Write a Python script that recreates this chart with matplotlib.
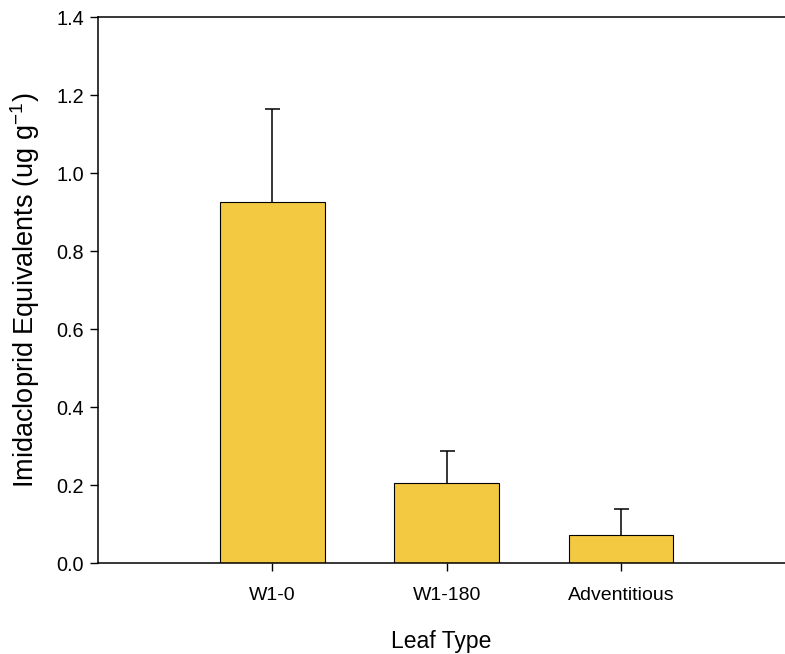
import matplotlib
matplotlib.use("Agg")
import matplotlib.pyplot as plt
import numpy as np

plt.rcParams["font.family"] = ["Liberation Sans", "DejaVu Sans"]
plt.rcParams["mathtext.fontset"] = "custom"
plt.rcParams["mathtext.rm"] = "Liberation Sans"
plt.rcParams["mathtext.default"] = "regular"

categories = ["W1-0", "W1-180", "Adventitious"]
means = [0.926, 0.206, 0.071]
errors = [0.238, 0.081, 0.068]
y_ticks = [0.0, 0.2, 0.4, 0.6, 0.8, 1.0, 1.2, 1.4]

fig = plt.figure(figsize=(7.85, 6.54), dpi=100)
ax = fig.add_axes([0.1248, 0.1391, 0.8752, 0.8349])

x = np.arange(len(categories))
bar_color = "#F2C940"

eb = ax.errorbar(x, means, yerr=[np.zeros(len(means)), errors], fmt="none",
                 ecolor="black", elinewidth=1.1, capsize=5.4, capthick=1.1,
                 zorder=1)
# keep only the upper caps
eb[1][0].set_visible(False)

ax.bar(x, means, width=0.6, color=bar_color, edgecolor="black",
       linewidth=0.8, zorder=2)

ax.set_xlim(-1.0, 2.94)
ax.set_ylim(0, 1.4)
ax.set_xticks(x)
ax.set_xticklabels(categories)
ax.set_yticks(y_ticks)
ax.set_yticklabels([f"{v:.1f}" for v in y_ticks])

for side in ("left", "bottom", "top"):
    ax.spines[side].set_linewidth(1.1)
ax.spines["right"].set_visible(False)

ax.tick_params(axis="y", direction="out", length=6, width=1.0, pad=4,
               labelsize=14.3)
ax.tick_params(axis="x", direction="out", length=6, width=1.0, pad=11,
               labelsize=14)

ax.set_xlabel("Leaf Type", fontsize=16.5, labelpad=19)
ax.set_ylabel("Imidacloprid Equivalents (ug g$^{-1}$)", fontsize=19.5,
              labelpad=10)

fig.savefig("out.png", dpi=100)
